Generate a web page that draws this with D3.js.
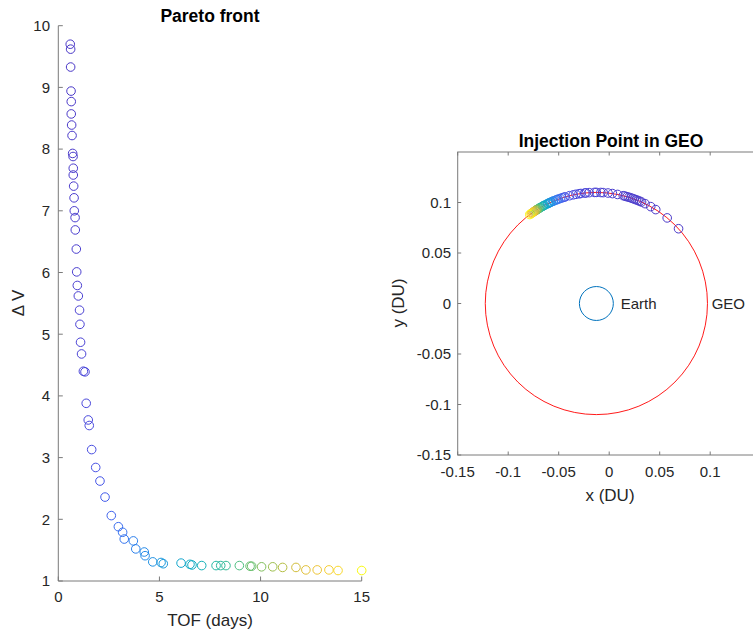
<!DOCTYPE html>
<html>
<head>
<meta charset="utf-8">
<script src="https://cdn.jsdelivr.net/npm/d3@7"></script>
<style>
html,body{margin:0;padding:0;background:#fff;}
svg{display:block;font-family:"Liberation Sans",Arial,Helvetica,sans-serif;}
</style>
</head>
<body>
<svg id="chart" width="753" height="632"></svg>
<script>
// ---- data ----
const tof = [0.59,0.61,0.61,0.63,0.64,0.64,0.66,0.68,0.71,0.73,0.74,0.74,0.76,0.78,0.79,0.83,0.84,0.89,0.91,0.94,0.99,1.05,
  1.07,1.10,1.15,1.24,1.32,1.38,1.48,1.53,1.65,1.85,2.06,2.31,2.62,2.97,3.18,3.26,3.71,3.83,4.25,4.29,4.67,5.08,5.19,
  6.07,6.51,6.61,7.09,7.80,8.03,8.29,8.95,9.48,9.56,10.05,10.60,11.09,11.75,12.24,12.80,13.38,13.83,15.00];
const dv = [9.70,9.62,9.33,8.94,8.77,8.57,8.39,8.22,7.93,7.88,7.69,7.58,7.40,7.21,7.00,6.89,6.69,6.38,6.01,5.79,5.62,5.39,
  5.16,4.87,4.68,4.40,4.39,3.88,3.61,3.52,3.13,2.84,2.62,2.36,2.06,1.88,1.79,1.68,1.65,1.52,1.47,1.41,1.31,1.30,1.28,
  1.29,1.27,1.26,1.25,1.25,1.25,1.25,1.25,1.24,1.24,1.23,1.23,1.22,1.22,1.18,1.18,1.18,1.17,1.17];
// injection angle on GEO (degrees, counter-clockwise from +x)
const injAngle = [42.3,50.4,57.7,60.7,64,66,67,68,69,70,71,72,73,74,75,76,79,81.7,84,86.5,87.7,90,
  91,93.7,95.4,96,98,99,100.6,102,104,106.3,107,108,109,110,110.8,111.5,112.7,113,114,114.5,115,115.6,116,
  117,118,118.5,119,120,120.5,121,121.5,122,122.3,122.7,123,123.5,124,124.5,125,125.5,126,126.8];
const geoCenter = [-0.0127, 0];
const geoRadius = 0.110;
const earthRadius = 0.0168;
const leftXTicks = [0,5,10,15];
const leftYTicks = [1,2,3,4,5,6,7,8,9,10];
const rightXTicks = [-0.15,-0.1,-0.05,0,0.05,0.1];
const rightXLabels = ["-0.15","-0.1","-0.05","0","0.05","0.1"];
const rightYTicks = [-0.15,-0.1,-0.05,0,0.05,0.1];
const rightYLabels = ["-0.15","-0.1","-0.05","0","0.05","0.1"];

// parula-like colormap
const parulaStops = ["#4a38c8","#4a56f0","#2a84f0","#159dd9","#08b2be","#3cbe8c","#87c155","#dcba32","#fcc838","#f9fb0e"];
const parula = d3.interpolateRgbBasis(parulaStops);
const cScale = d3.scaleLinear().domain(d3.extent(tof)).range([0,1]);
const colorOf = i => parula(cScale(tof[i]));

const svg = d3.select("#chart");
const axisColor = "#7a7a7a";
const textColor = "#262626";
const tickFont = 15;
const labelFont = 17;
const titleFont = 17.5;
const markerR = 4.3;

// ---------- LEFT: Pareto front ----------
const lx = d3.scaleLinear().domain([0,15]).range([58.3,361.7]);
const ly = d3.scaleLinear().domain([1,10]).range([581,25.7]);
const L = svg.append("g");

L.append("line").attr("x1",lx(0)).attr("x2",lx(15)).attr("y1",ly(1)).attr("y2",ly(1)).attr("stroke",axisColor);
L.append("line").attr("x1",lx(0)).attr("x2",lx(0)).attr("y1",ly(1)).attr("y2",ly(10)).attr("stroke",axisColor);
leftXTicks.forEach(t=>{
  L.append("line").attr("x1",lx(t)).attr("x2",lx(t)).attr("y1",ly(1)).attr("y2",ly(1)-4.5).attr("stroke",axisColor);
  L.append("text").attr("x",lx(t)).attr("y",602).attr("text-anchor","middle")
    .attr("font-size",tickFont).attr("fill",textColor).text(t);
});
leftYTicks.forEach(t=>{
  L.append("line").attr("x1",lx(0)).attr("x2",lx(0)+4.5).attr("y1",ly(t)).attr("y2",ly(t)).attr("stroke",axisColor);
  L.append("text").attr("x",50).attr("y",ly(t)+5.3).attr("text-anchor","end")
    .attr("font-size",tickFont).attr("fill",textColor).text(t);
});
L.append("text").attr("x",210).attr("y",626).attr("text-anchor","middle")
  .attr("font-size",labelFont).attr("fill",textColor).text("TOF (days)");
L.append("text").attr("transform","translate(24,303) rotate(-90)").attr("text-anchor","middle")
  .attr("font-size",labelFont).attr("fill",textColor).text("Δ V");
L.append("text").attr("x",210).attr("y",22).attr("text-anchor","middle")
  .attr("font-size",titleFont).attr("font-weight","bold").attr("fill","#000").text("Pareto front");

L.selectAll("circle.p").data(tof).enter().append("circle")
  .attr("cx",(d)=>lx(d)).attr("cy",(d,i)=>ly(dv[i])).attr("r",markerR)
  .attr("fill","none").attr("stroke",(d,i)=>colorOf(i)).attr("stroke-width",1);

// ---------- RIGHT: Injection point in GEO ----------
const rx = d3.scaleLinear().domain([-0.15,0.15]).range([457.7,760.7]);
const ry = d3.scaleLinear().domain([-0.15,0.15]).range([455,152]);
const R = svg.append("g");

// box
R.append("rect").attr("x",rx(-0.15)).attr("y",ry(0.15)).attr("width",rx(0.15)-rx(-0.15)).attr("height",ry(-0.15)-ry(0.15))
  .attr("fill","none").attr("stroke",axisColor);
rightXTicks.forEach((t,i)=>{
  R.append("line").attr("x1",rx(t)).attr("x2",rx(t)).attr("y1",ry(-0.15)).attr("y2",ry(-0.15)-3.5).attr("stroke",axisColor);
  R.append("line").attr("x1",rx(t)).attr("x2",rx(t)).attr("y1",ry(0.15)).attr("y2",ry(0.15)+3.5).attr("stroke",axisColor);
  R.append("text").attr("x",rx(t)).attr("y",477).attr("text-anchor","middle")
    .attr("font-size",tickFont).attr("fill",textColor).text(rightXLabels[i]);
});
rightYTicks.forEach((t,i)=>{
  R.append("line").attr("x1",rx(-0.15)).attr("x2",rx(-0.15)+3.5).attr("y1",ry(t)).attr("y2",ry(t)).attr("stroke",axisColor);
  R.append("text").attr("x",451).attr("y",ry(t)+5.3).attr("text-anchor","end")
    .attr("font-size",tickFont).attr("fill",textColor).text(rightYLabels[i]);
});
R.append("text").attr("x",610).attr("y",501).attr("text-anchor","middle")
  .attr("font-size",labelFont).attr("fill",textColor).text("x (DU)");
R.append("text").attr("transform","translate(404,303) rotate(-90)").attr("text-anchor","middle")
  .attr("font-size",labelFont).attr("fill",textColor).text("y (DU)");
R.append("text").attr("x",611).attr("y",147).attr("text-anchor","middle")
  .attr("font-size",titleFont).attr("font-weight","bold").attr("fill","#000").text("Injection Point in GEO");

const pxPerUnit = rx(1)-rx(0);
// GEO orbit
R.append("circle").attr("cx",rx(geoCenter[0])).attr("cy",ry(geoCenter[1])).attr("r",geoRadius*pxPerUnit)
  .attr("fill","none").attr("stroke","#ff0000").attr("stroke-width",0.9);
// Earth
R.append("circle").attr("cx",rx(geoCenter[0])).attr("cy",ry(geoCenter[1])).attr("r",earthRadius*pxPerUnit)
  .attr("fill","none").attr("stroke","#0072bd").attr("stroke-width",1);
R.append("text").attr("x",620.7).attr("y",309).attr("font-size",tickFont).attr("fill",textColor).text("Earth");
R.append("text").attr("x",711.7).attr("y",309).attr("font-size",tickFont).attr("fill",textColor).text("GEO");

// injection points
R.selectAll("circle.inj").data(injAngle).enter().append("circle")
  .attr("cx",d=>rx(geoCenter[0]+geoRadius*Math.cos(d*Math.PI/180)))
  .attr("cy",d=>ry(geoCenter[1]+geoRadius*Math.sin(d*Math.PI/180)))
  .attr("r",markerR).attr("fill","none").attr("stroke",(d,i)=>colorOf(i)).attr("stroke-width",1);
</script>
</body>
</html>
